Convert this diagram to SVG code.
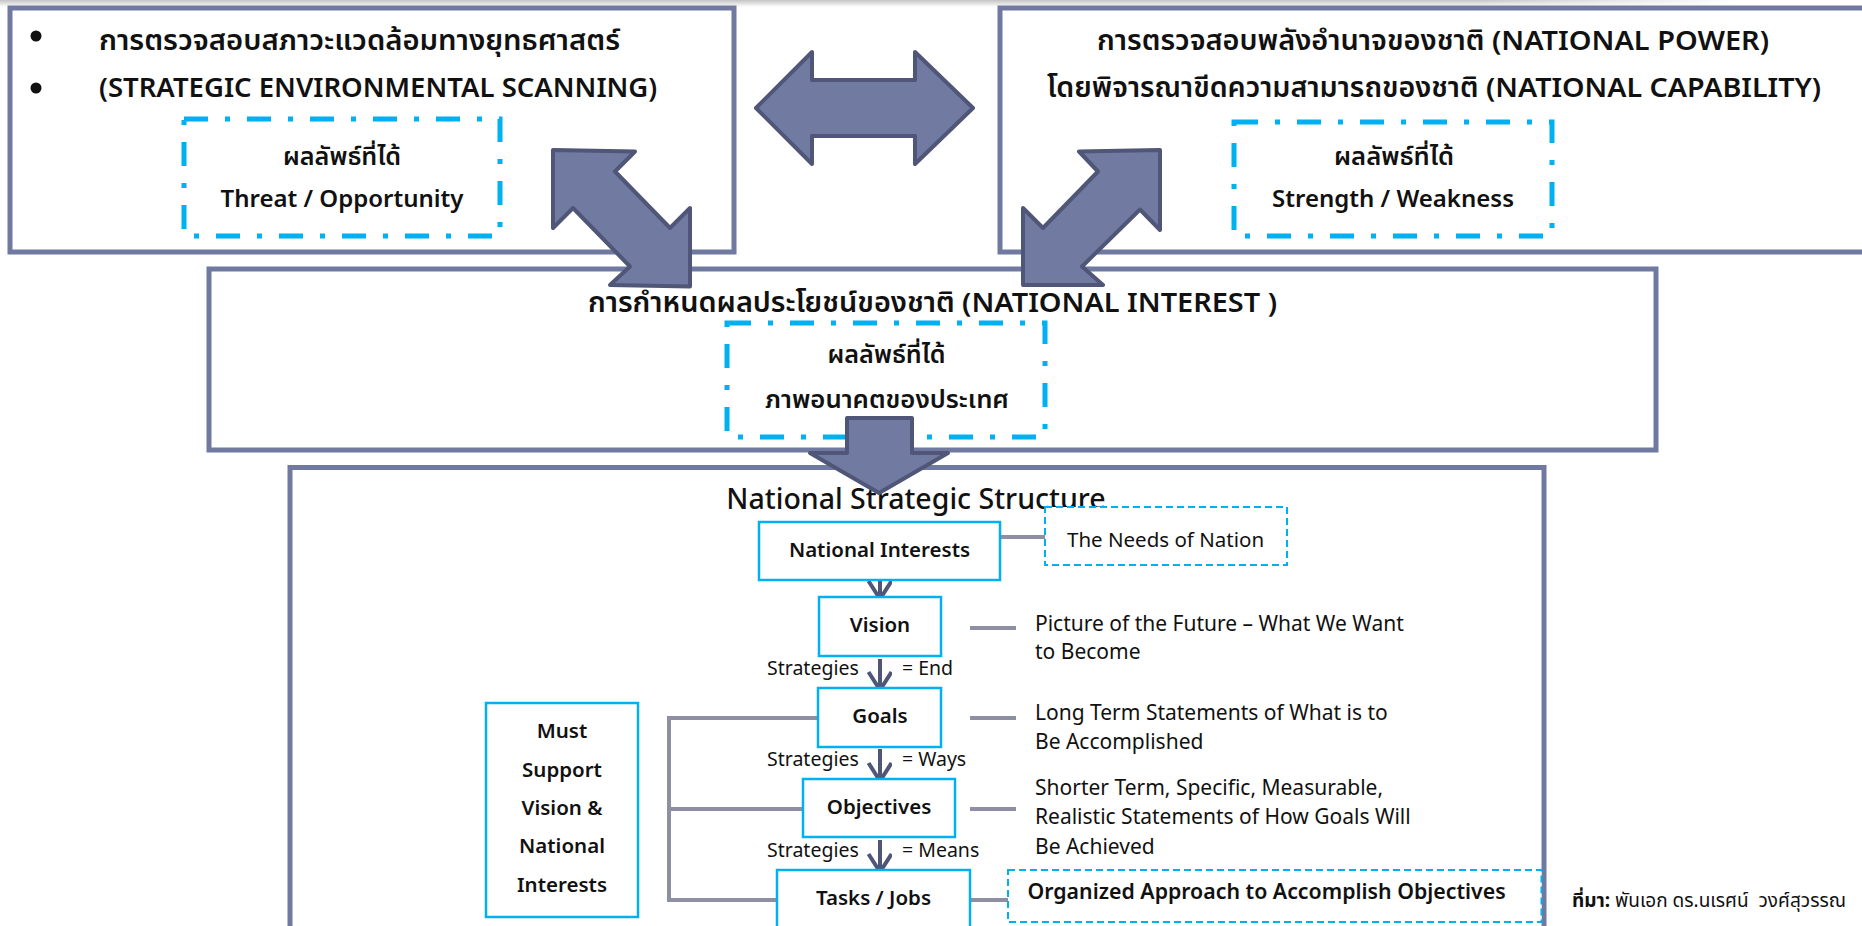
<svg xmlns="http://www.w3.org/2000/svg" width="1862" height="926" viewBox="0 0 1862 926">
<style>
.frame{fill:#fff;stroke:#7079A0;stroke-width:5}
.dd{fill:none;stroke:#00B0F0;stroke-width:5;stroke-dasharray:24 17 5 17}
.dash{fill:#fff;stroke:#00B0F0;stroke-width:2;stroke-dasharray:7 4}
.cbox{fill:#fff;stroke:#00B0F0;stroke-width:2.5}
.arr{fill:#717BA1;stroke:#4F5677;stroke-width:4;stroke-linejoin:round}
.gl{fill:none;stroke:#8F8FA3;stroke-width:4}
.va{fill:none;stroke:#4F5677;stroke-width:4}
text{font-family:'Noto Sans','Noto Sans Thai','Noto Sans Thai UI',sans-serif;fill:#111}
.t1{font-size:27.5px;font-weight:600}
.t2{font-size:24px;font-weight:600}
.lb{font-size:20.5px;font-weight:600;text-anchor:middle}
.ds{font-size:21px;font-weight:400}
.st{font-size:19.5px;font-weight:400}
.ti{font-size:28.5px;font-weight:500;text-anchor:middle}
.c{text-anchor:middle}
</style>
<defs>
<linearGradient id="sh" x1="0" y1="0" x2="0" y2="1"><stop offset="0" stop-color="#c4c4c4"/><stop offset="1" stop-color="#ffffff"/></linearGradient>
<linearGradient id="shx" x1="0" y1="0" x2="1" y2="0"><stop offset="0" stop-color="#fff" stop-opacity="0"/><stop offset="0.85" stop-color="#fff" stop-opacity="0"/><stop offset="1" stop-color="#fff" stop-opacity="1"/></linearGradient>
<marker id="vh" markerUnits="userSpaceOnUse" markerWidth="30" markerHeight="30" refX="20" refY="12" orient="auto"><path d="M2,0.5 L20,12 L2,23.5" fill="none" stroke="#4F5677" stroke-width="4"/></marker>
</defs>
<rect x="0" y="0" width="1862" height="926" fill="#fff"/>
<rect x="0" y="0" width="1740" height="7" fill="url(#sh)"/>
<rect x="0" y="0" width="1740" height="7" fill="url(#shx)"/>

<g id="env-scan">
<rect class="frame" x="10" y="8" width="724" height="244"/>
<circle cx="36" cy="36" r="5.5" fill="#111"/>
<circle cx="36" cy="88" r="5.5" fill="#111"/>
<text class="t1" x="99" y="50" textLength="521" lengthAdjust="spacingAndGlyphs">การตรวจสอบสภาวะแวดล้อมทางยุทธศาสตร์</text>
<text class="t1" x="99" y="97">(STRATEGIC ENVIRONMENTAL SCANNING)</text>
<rect class="dd" x="184" y="119" width="316" height="117"/>
<text class="t2 c" x="342" y="165" textLength="118" lengthAdjust="spacingAndGlyphs">ผลลัพธ์ที่ได้</text>
<text class="t2 c" x="342" y="207">Threat / Opportunity</text>
</g>

<g id="national-power">
<rect class="frame" x="1000" y="8" width="900" height="244"/>
<text class="t1 c" x="1433" y="50" textLength="672" lengthAdjust="spacingAndGlyphs">การตรวจสอบพลังอำนาจของชาติ (NATIONAL POWER)</text>
<text class="t1 c" x="1434" y="97" textLength="774" lengthAdjust="spacingAndGlyphs">โดยพิจารณาขีดความสามารถของชาติ (NATIONAL CAPABILITY)</text>
<rect class="dd" x="1234" y="122" width="318" height="114"/>
<text class="t2 c" x="1394" y="165" textLength="120" lengthAdjust="spacingAndGlyphs">ผลลัพธ์ที่ได้</text>
<text class="t2 c" x="1393" y="207">Strength / Weakness</text>
</g>

<g id="national-interest">
<rect class="frame" x="209" y="269" width="1447" height="181"/>
<text class="t1 c" x="932.5" y="312" textLength="689" lengthAdjust="spacingAndGlyphs">การกำหนดผลประโยชน์ของชาติ (NATIONAL INTEREST )</text>
<rect class="dd" x="727" y="323" width="318" height="114"/>
<text class="t2 c" x="886.5" y="363" textLength="118" lengthAdjust="spacingAndGlyphs">ผลลัพธ์ที่ได้</text>
<text class="t2 c" x="887" y="408" textLength="244" lengthAdjust="spacingAndGlyphs">ภาพอนาคตของประเทศ</text>
</g>

<g id="structure">
<rect class="frame" x="290" y="467.5" width="1254" height="500"/>
<text class="ti" x="916" y="509">National Strategic Structure</text>
</g>

<g id="big-arrows">
<polygon class="arr" points="756,108 812,52 812,80 915,80 915,52 973,108 915,164 915,136 812,136 812,164"/>
<polygon class="arr" points="553,150 635,151.5 615,171.5 670,228 690,208 690,286.5 610,285 630,266.5 573,208 553,228"/>
<polygon class="arr" points="1160,150 1160,230 1140,209.5 1082,266.5 1103,285 1023,285 1023,208 1043,228 1098,171.5 1079,151.5"/>
<polygon class="arr" points="847,418 912,418 912,453 948,453 879,493 810,453 847,453"/>
</g>

<g id="connectors">
<path class="gl" d="M1000,537 H1045"/>
<path class="gl" d="M970,628 H1016"/>
<path class="gl" d="M970,718 H1016"/>
<path class="gl" d="M970,809 H1016"/>
<path class="gl" d="M970,900 H1008"/>
<path class="gl" d="M818,718 H669 V900 H777 M669,809 H803"/>
<path class="va" d="M880,567 V599" marker-end="url(#vh)"/>
<path class="va" d="M880,659 V690" marker-end="url(#vh)"/>
<path class="va" d="M880,749 V781" marker-end="url(#vh)"/>
<path class="va" d="M880,840 V872" marker-end="url(#vh)"/>
</g>

<g id="n-interests">
<rect class="cbox" x="759" y="522" width="241" height="58"/>
<text class="lb" x="879.5" y="557">National Interests</text>
</g>
<g id="needs">
<rect class="dash" x="1045" y="507" width="242" height="58"/>
<text class="ds" x="1067" y="547" style="font-size:20.5px">The Needs of Nation</text>
</g>
<g id="vision">
<rect class="cbox" x="819" y="597" width="122" height="59"/>
<text class="lb" x="880" y="632">Vision</text>
<text class="ds" x="1035" y="631">Picture of the Future – What We Want</text>
<text class="ds" x="1035" y="659">to Become</text>
</g>
<g id="goals">
<rect class="cbox" x="818" y="688" width="123" height="59"/>
<text class="lb" x="880" y="723">Goals</text>
<text class="ds" x="1035" y="720">Long Term Statements of What is to</text>
<text class="ds" x="1035" y="749">Be Accomplished</text>
</g>
<g id="objectives">
<rect class="cbox" x="803" y="779" width="152" height="58"/>
<text class="lb" x="879" y="814">Objectives</text>
<text class="ds" x="1035" y="795">Shorter Term, Specific, Measurable,</text>
<text class="ds" x="1035" y="824">Realistic Statements of How Goals Will</text>
<text class="ds" x="1035" y="854">Be Achieved</text>
</g>
<g id="tasks">
<rect class="cbox" x="777" y="870" width="193" height="80"/>
<text class="lb" x="873.5" y="905">Tasks / Jobs</text>
</g>
<g id="organized">
<rect class="dash" x="1008" y="870" width="533.5" height="52"/>
<text class="lb" x="1027.5" y="899" style="text-anchor:start;font-size:21.3px">Organized Approach to Accomplish Objectives</text>
</g>
<g id="must-support">
<rect class="cbox" x="486" y="703" width="152" height="214"/>
<text class="lb" x="562" y="738">Must</text>
<text class="lb" x="562" y="777">Support</text>
<text class="lb" x="562" y="815">Vision &amp;</text>
<text class="lb" x="562" y="853">National</text>
<text class="lb" x="562" y="892">Interests</text>
</g>
<g id="strategies">
<text class="st" x="767" y="675">Strategies</text>
<text class="st" x="902" y="675">= End</text>
<text class="st" x="767" y="766">Strategies</text>
<text class="st" x="902" y="766">= Ways</text>
<text class="st" x="767" y="857">Strategies</text>
<text class="st" x="902" y="857">= Means</text>
</g>
<g id="source">
<text x="1572" y="907" style="font-size:19px;white-space:pre"><tspan font-weight="700">ที่มา:</tspan> พันเอก ดร.นเรศน์  วงศ์สุวรรณ</text>
</g>
</svg>
